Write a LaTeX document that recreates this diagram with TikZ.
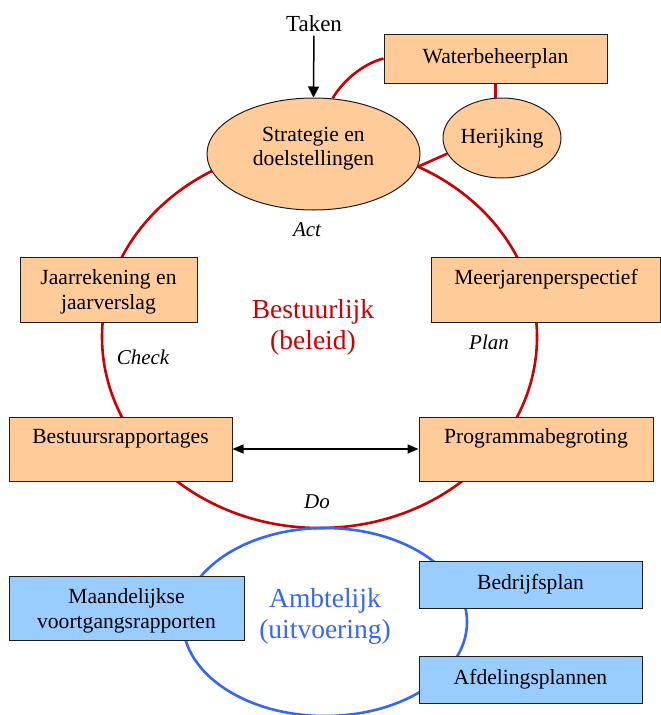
\documentclass[tikz,border=0pt]{standalone}
\usepackage{fontspec}
\setmainfont{Liberation Serif}
\usetikzlibrary{shapes.geometric,arrows.meta}
\definecolor{boxorange}{RGB}{255,204,153}
\definecolor{boxblue}{RGB}{153,204,255}
\definecolor{cyclered}{RGB}{204,0,0}
\definecolor{cycleblue}{RGB}{51,102,255}
\definecolor{edgegray}{RGB}{30,30,30}
\begin{document}
\begin{tikzpicture}[x=1pt,y=-1pt,
  txt/.style={font=\fontsize{21.6}{25}\selectfont},
  orangebox/.style={rectangle, draw=edgegray, line width=1pt, fill=boxorange, inner sep=0pt, align=center, txt},
  bluebox/.style={rectangle, draw=edgegray, line width=1pt, fill=boxblue, inner sep=0pt, align=center, txt},
  orangeoval/.style={ellipse, draw=edgegray, line width=1pt, fill=boxorange, inner sep=0pt, align=center, font=\fontsize{21.6}{24}\selectfont},
  redline/.style={draw=cyclered, line width=2.6pt},
  blueline/.style={draw=cycleblue, line width=2.6pt},
  phase/.style={font=\fontsize{21}{25}\selectfont\itshape},
  bigtxt/.style={font=\fontsize{27.5}{31}\selectfont, align=center},
  arrowline/.style={line width=1.5pt, draw=black}
]
\useasboundingbox (0,0) rectangle (661,715);

% cycles
\draw[redline] (319.5,337) ellipse [x radius=217.5pt, y radius=191pt];
\draw[blueline] (325,622) ellipse [x radius=142pt, y radius=94pt];

% orange nodes
\node[orangeoval, minimum width=213pt, minimum height=112pt] (strat) at (313.5,154) {Strategie en\\doelstellingen\\[-9.3pt]\mbox{}};
\node[orangeoval, minimum width=118pt, minimum height=80pt] (herij) at (502,138) {Herijking};
\node[orangebox, minimum width=223pt, minimum height=49pt] (water) at (495.5,58.5) {Waterbeheerplan};
\node[orangebox, minimum width=177pt, minimum height=65pt] (jaar) at (108.5,289.5) {Jaarrekening en\\jaarverslag\\[-25.5pt]\mbox{}};
\node[orangebox, minimum width=229pt, minimum height=65pt] (meer) at (546,289.5) {Meerjarenperspectief\\\mbox{}};
\node[orangebox, minimum width=223pt, minimum height=64pt] (best) at (120.5,449) {Bestuursrapportages\\\mbox{}};
\node[orangebox, minimum width=234pt, minimum height=64pt] (prog) at (536,449) {Programmabegroting\\\mbox{}};

% blue nodes
\node[bluebox, minimum width=235pt, minimum height=64pt] (maand) at (126.5,608) {Maandelijkse\\voortgangsrapporten\\[-25.5pt]\mbox{}};
\node[bluebox, minimum width=223pt, minimum height=47pt] (bedr) at (530.5,584.5) {Bedrijfsplan};
\node[bluebox, minimum width=223pt, minimum height=47pt] (afd) at (530.5,679.5) {Afdelingsplannen};

% texts
\node[font=\fontsize{23}{27}\selectfont] (taken) at (314,24) {Taken};
\node[phase] (act) at (307,230) {Act};
\node[phase] (check) at (143,357) {Check};
\node[phase] (plan) at (489,342) {Plan};
\node[phase] (do) at (317,502) {Do};
\node[bigtxt, text=cyclered] (bestuurlijk) at (313,327.5) {Bestuurlijk\\(beleid)};
\node[bigtxt, text=cycleblue] (ambtelijk) at (325,616) {Ambtelijk\\(uitvoering)};

% red connectors
\draw[redline] (strat.71) .. controls (342,82) and (362,64) .. (water.west);
\draw[redline] (water.south) -- (herij.north -| water.south);
\draw[redline] (herij.196) -- (strat.-7);

% arrows
\draw[arrowline, -{Triangle[length=11pt,width=11pt]}] (taken) -- (strat.north);
\draw[arrowline, {Triangle[length=11pt,width=9pt]}-{Triangle[length=11pt,width=9pt]}] (best.east) -- (prog.west);
\end{tikzpicture}
\end{document}
